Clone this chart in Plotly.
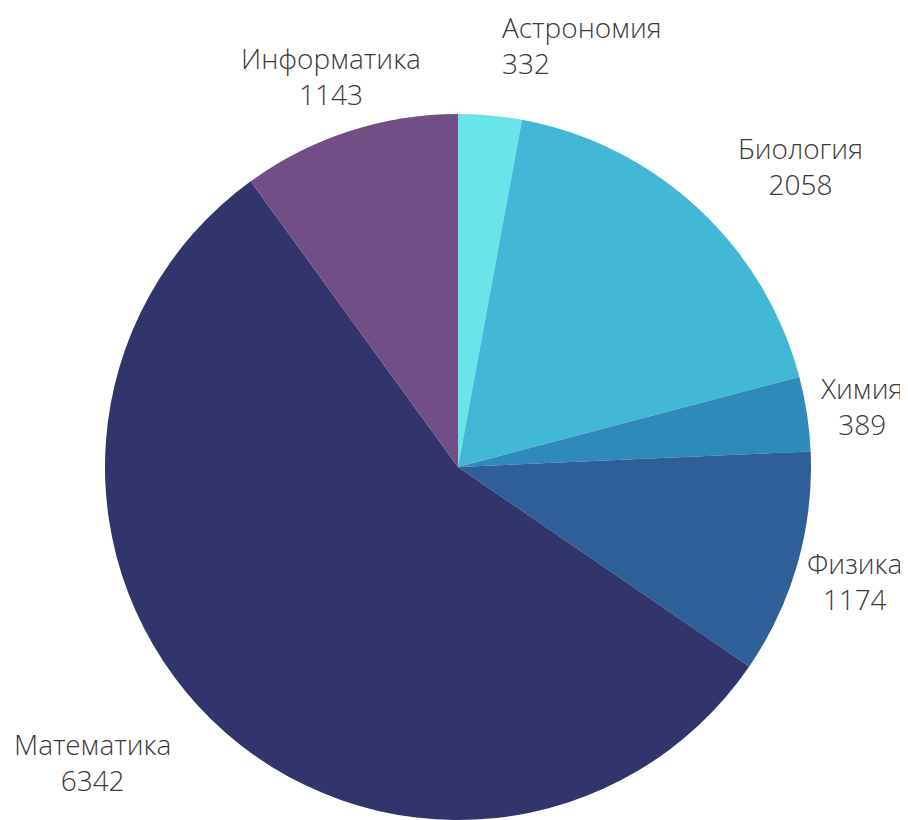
import plotly.graph_objects as go

labels = ["Астрономия", "Биология", "Химия", "Физика", "Математика", "Информатика"]
values = [332, 2058, 389, 1174, 6342, 1143]
colors = ["#69e4e9", "#42b7d6", "#2d8aba", "#2e5f99", "#31356b", "#714f86"]

W, H = 908, 820
OFF = 8  # page body margin

def px(x):
    return (x - OFF) / W

def py(y):
    return 1 - (y - OFF) / H

# label placement (reference pixels) and alignment
label_pos = [
    (500, 45, "left"),
    (800, 166, "center"),
    (862, 406, "center"),
    (854, 581, "center"),
    (92, 762, "center"),
    (331, 76, "center"),
]

fig = go.Figure(
    go.Pie(
        labels=labels,
        values=values,
        marker=dict(colors=colors, line=dict(width=0)),
        sort=False,
        direction="clockwise",
        rotation=0,
        textinfo="none",
        hoverinfo="label+value",
        domain=dict(x=[px(105), px(811)], y=[py(820), py(114)]),
        showlegend=False,
    )
)

annotations = []
for lab, val, (x, y, al) in zip(labels, values, label_pos):
    annotations.append(
        dict(
            x=px(x), y=py(y), xref="paper", yref="paper",
            text=f"{lab}<br>{val}",
            showarrow=False,
            xanchor="left" if al == "left" else "center",
            yanchor="middle",
            align=al,
            font=dict(family="Open Sans Light, Open Sans", size=28, color="#3a3a3a", weight=300),
        )
    )

fig.update_layout(
    width=W,
    height=H,
    margin=dict(l=0, r=0, t=0, b=0),
    paper_bgcolor="white",
    plot_bgcolor="white",
    annotations=annotations,
)

fig.write_html("out.html")
